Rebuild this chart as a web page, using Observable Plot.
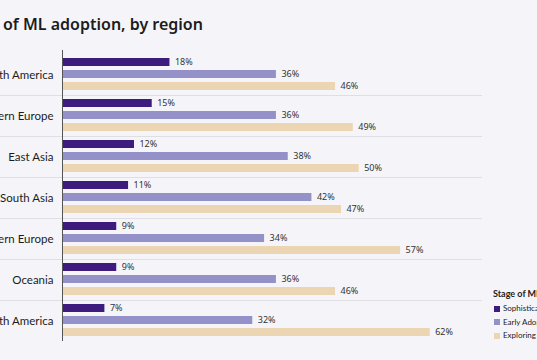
<!DOCTYPE html>
<html><head><meta charset="utf-8">
<script src="https://cdn.jsdelivr.net/npm/d3@7"></script>
<script src="https://cdn.jsdelivr.net/npm/@observablehq/plot@0.6"></script>
<style>
html,body{margin:0;padding:0;background:#f5f5f9;overflow:hidden;width:537px;height:360px}
#wrap{position:relative;width:537px;height:360px;overflow:hidden}
#chart{position:absolute;left:0;top:0}
#title{position:absolute;top:14px;white-space:nowrap;font:600 16px "Noto Sans",sans-serif;color:#1c1c1c;line-height:20px}
#legend{position:absolute;left:493px;top:288px;white-space:nowrap;font-family:Lato,"Noto Sans",sans-serif;color:#222}
#legend .lt{font-size:9px;font-weight:700;line-height:12px;margin-bottom:2px}
#legend .it{font-size:8px;line-height:13.5px;display:flex;align-items:center}
#legend .sw{width:6px;height:6px;margin-right:3px;margin-left:1px}
</style></head><body>
<div id="wrap"><div id="chart"></div><div id="title"></div><div id="legend"></div></div>
<script>
const regions = ["North America","Western Europe","East Asia","South Asia","Eastern Europe","Oceania","South America"];
const stages = ["Sophisticated","Early Adopters","Exploring"];
const sophisticated = [18,15,12,11,9,9,7];
const earlyAdopters = [36,36,38,42,34,36,32];
const exploring = [46,49,50,47,57,46,62];
const stageColors = ["#3d1c7e","#9490c8","#ecd5b2"];
const titlePre = "Stages ";
const titleRest = "of ML adoption, by region";
const legendTitle = "Stage of ML adoption";

const series = [sophisticated, earlyAdopters, exploring];
const rows = [];
regions.forEach((r, i) => stages.forEach((s, j) => rows.push({region: r, stage: s, value: series[j][i]})));

const W = 537, H = 360, mT = 51, mB = 16, mL = 63, mR = 60;
const facetH = (H - mT - mB) / regions.length;

const chart = Plot.plot({
  width: W, height: H,
  marginTop: mT, marginBottom: mB, marginLeft: mL, marginRight: mR,
  style: {background: "transparent", fontFamily: "Lato", overflow: "visible"},
  x: {domain: [0, 70], axis: null},
  y: {domain: stages, axis: null, paddingInner: 0.33, paddingOuter: 0.3},
  fy: {domain: regions, padding: 0},
  color: {domain: stages, range: stageColors},
  marks: [
    Plot.rect(regions.slice(1), {fy: d => d, fill: "#b2b2b8", insetLeft: -mL, insetRight: -5, insetBottom: facetH - 1.2}),
    Plot.barX(rows, {fy: "region", y: "stage", x: "value", fill: "stage"}),
    Plot.text(rows, {fy: "region", y: "stage", x: "value", text: d => d.value + "%", textAnchor: "start", dx: 5, fontSize: 9, fontFamily: "'Liberation Sans Narrow', 'Noto Sans'", fill: "#333"}),
    Plot.ruleX(regions.slice(0, 1), {fy: d => d, x: () => 0, insetTop: -4, stroke: "#555", dx: -1}),
    Plot.ruleX(regions.slice(1), {fy: d => d, x: () => 0, stroke: "#555", dx: -1}),
    Plot.axisFy({anchor: "left", tickSize: 0, tickPadding: 10, fontSize: 11.5, fontFamily: "Lato", label: null, fill: "#1c1c1c"})
  ]
});
document.getElementById("chart").appendChild(chart);

const t = document.getElementById("title");
const pre = document.createElement("span");
pre.textContent = titlePre;
t.appendChild(pre);
t.appendChild(document.createTextNode(titleRest));
t.style.left = (3 - pre.getBoundingClientRect().width) + "px";

const lg = document.getElementById("legend");
const lt = document.createElement("div"); lt.className = "lt"; lt.textContent = legendTitle; lg.appendChild(lt);
stages.forEach((s, i) => {
  const it = document.createElement("div"); it.className = "it";
  const sw = document.createElement("span"); sw.className = "sw"; sw.style.background = stageColors[i];
  it.appendChild(sw); it.appendChild(document.createTextNode(s)); lg.appendChild(it);
});
</script>
</body></html>
